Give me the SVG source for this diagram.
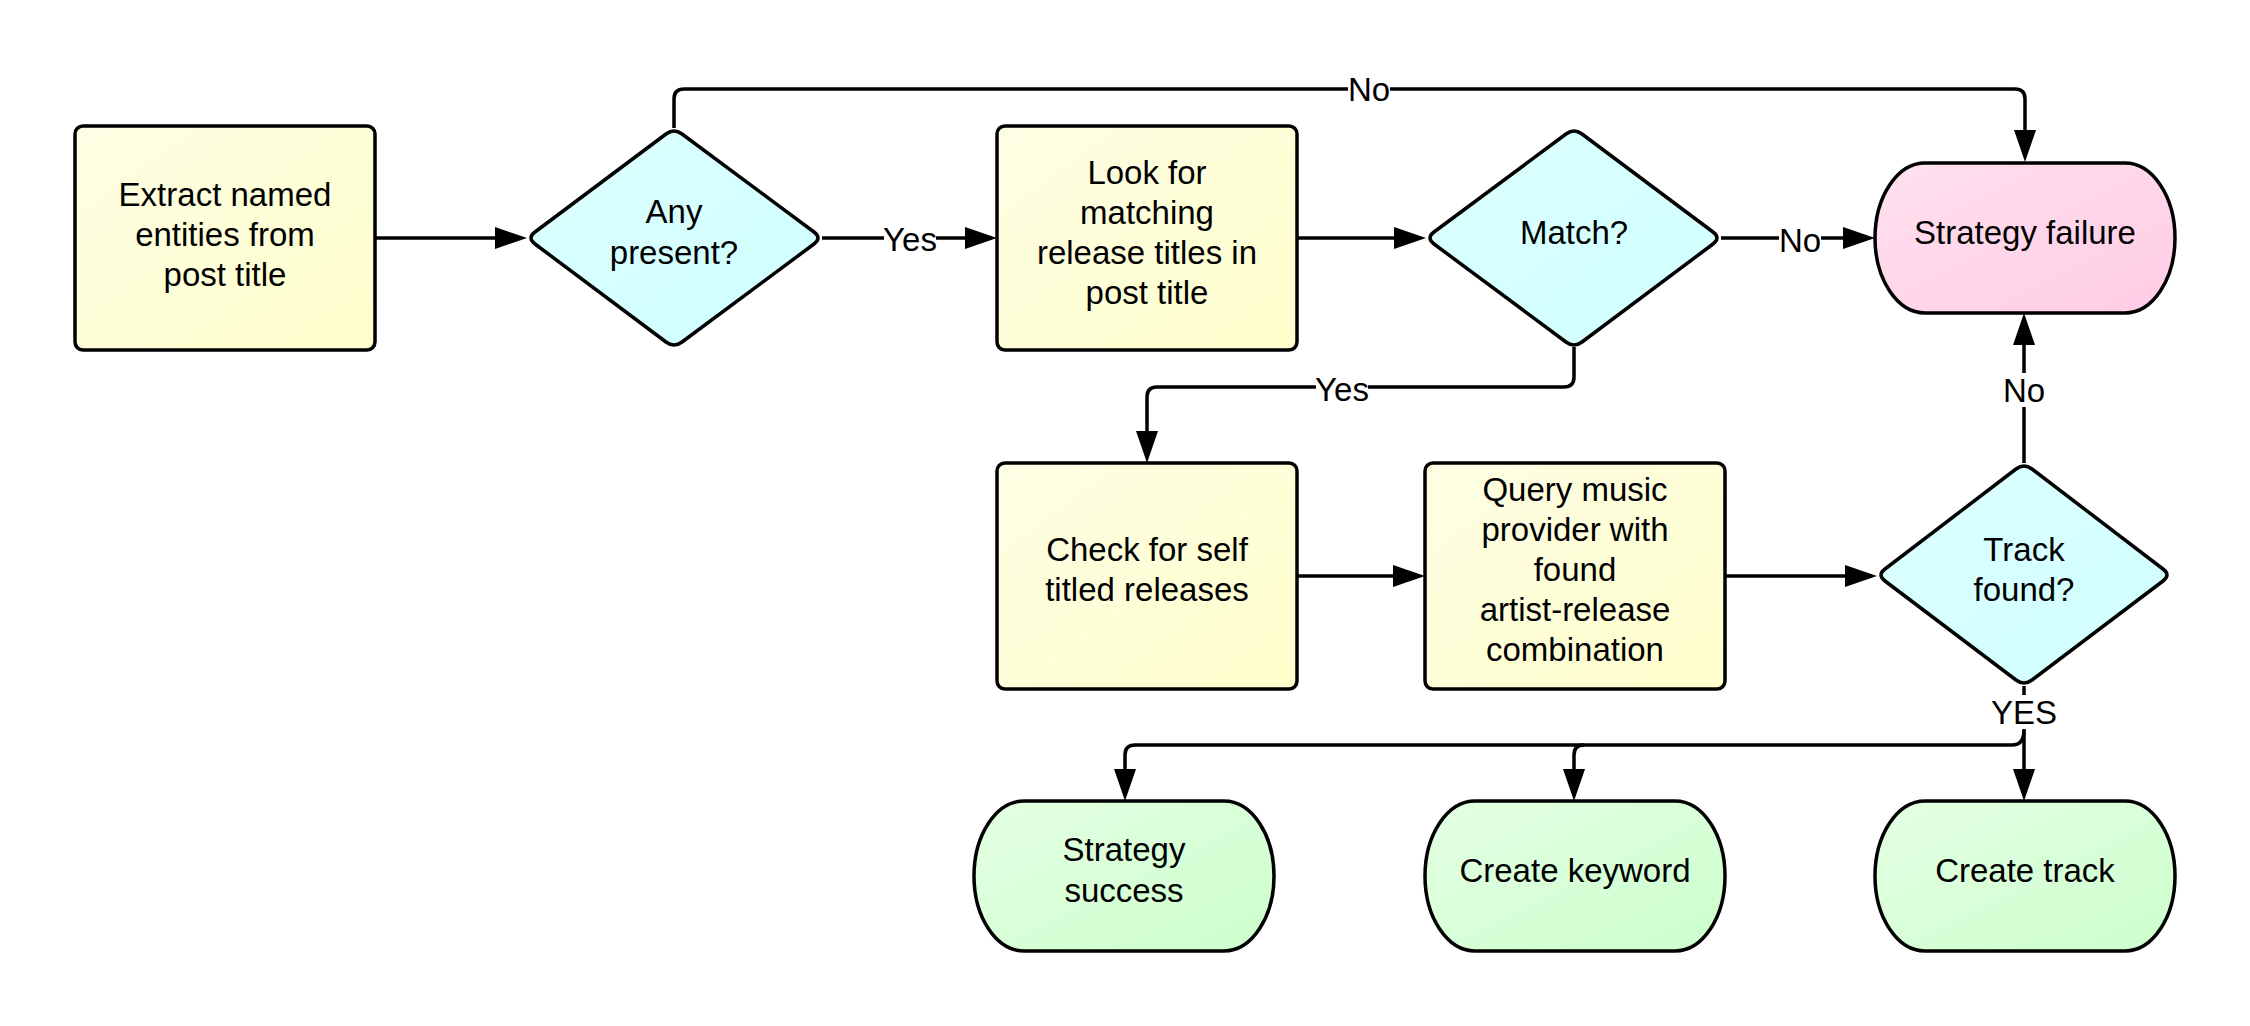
<svg xmlns="http://www.w3.org/2000/svg" width="2250" height="1026" viewBox="0 0 2250 1026">
<defs>
<linearGradient id="gY" x1="0" y1="0" x2="1" y2="1"><stop offset="0" stop-color="#fdfde4"/><stop offset="1" stop-color="#ffffcc"/></linearGradient>
<linearGradient id="gC" x1="0" y1="0" x2="1" y2="1"><stop offset="0" stop-color="#dcffff"/><stop offset="1" stop-color="#d0ffff"/></linearGradient>
<linearGradient id="gP" x1="0" y1="0" x2="1" y2="1"><stop offset="0" stop-color="#ffe0ee"/><stop offset="1" stop-color="#ffcce5"/></linearGradient>
<linearGradient id="gG" x1="0" y1="0" x2="1" y2="1"><stop offset="0" stop-color="#e4ffe4"/><stop offset="1" stop-color="#ccffcc"/></linearGradient>
<marker id="arr" markerUnits="userSpaceOnUse" markerWidth="32" markerHeight="22" refX="16" refY="11" orient="auto">
<path d="M0,0 L32,11 L0,22 z" fill="#000"/>
</marker>
<style>
.n{stroke:#000;stroke-width:3.5;stroke-linejoin:round}
.t{font-family:"Liberation Sans",Arial,sans-serif;font-size:33px;fill:#000;text-anchor:middle}
.c{fill:none;stroke:#000;stroke-width:3.5;stroke-linejoin:round}
.lb{fill:#fff}
</style>
</defs>
<rect width="2250" height="1026" fill="#fff"/>
<g id="connectors">
<path class="c" d="M375,238 H511" marker-end="url(#arr)"/>
<path class="c" d="M822,238 H981" marker-end="url(#arr)"/>
<path class="c" d="M674,128 V99 Q674,89 684,89 H2015 Q2025,89 2025,99 V146" marker-end="url(#arr)"/>
<path class="c" d="M1297,238 H1410" marker-end="url(#arr)"/>
<path class="c" d="M1721,238 H1859" marker-end="url(#arr)"/>
<path class="c" d="M1574,347 V377 Q1574,387 1564,387 H1157 Q1147,387 1147,397 V447" marker-end="url(#arr)"/>
<path class="c" d="M1297,576 H1409" marker-end="url(#arr)"/>
<path class="c" d="M1725,576 H1861" marker-end="url(#arr)"/>
<path class="c" d="M2024,463 V329" marker-end="url(#arr)"/>
<path class="c" d="M2024,686 V785" marker-end="url(#arr)"/>
<path class="c" d="M2024,730 Q2024,745 2012,745 H1135 Q1125,745 1125,755 V785" marker-end="url(#arr)"/>
<path class="c" d="M1584,745 Q1574,745 1574,755 V785" marker-end="url(#arr)"/>
<rect class="lb" x="884" y="222" width="52" height="34"/>
<text class="t" x="910" y="251">Yes</text>
<rect class="lb" x="1348" y="72" width="42" height="34"/>
<text class="t" x="1369" y="101">No</text>
<rect class="lb" x="1779" y="223" width="42" height="34"/>
<text class="t" x="1800" y="252">No</text>
<rect class="lb" x="1316" y="372" width="52" height="34"/>
<text class="t" x="1342" y="401">Yes</text>
<rect class="lb" x="2003" y="373" width="42" height="34"/>
<text class="t" x="2024" y="402">No</text>
<rect class="lb" x="1994" y="695" width="60" height="34"/>
<text class="t" x="2024" y="724">YES</text>
</g>
<g id="extract">
<rect class="n" x="75" y="126" width="300" height="224" rx="8" fill="url(#gY)"/>
<text class="t" x="225" y="206">Extract named</text>
<text class="t" x="225" y="246">entities from</text>
<text class="t" x="225" y="286">post title</text>
</g>
<g id="any">
<path class="n" d="M666,134 Q674,128 682,134 L814,232 Q822,238 814,244 L682,342 Q674,348 666,342 L535,244 Q527,238 535,232 Z" fill="url(#gC)"/>
<text class="t" x="674" y="223">Any</text>
<text class="t" x="674" y="264">present?</text>
</g>
<g id="lookfor">
<rect class="n" x="997" y="126" width="300" height="224" rx="8" fill="url(#gY)"/>
<text class="t" x="1147" y="184">Look for</text>
<text class="t" x="1147" y="224">matching</text>
<text class="t" x="1147" y="264">release titles in</text>
<text class="t" x="1147" y="304">post title</text>
</g>
<g id="match">
<path class="n" d="M1566,134 Q1574,128 1582,134 L1713,232 Q1721,238 1713,244 L1582,342 Q1574,348 1566,342 L1434,244 Q1426,238 1434,232 Z" fill="url(#gC)"/>
<text class="t" x="1574" y="244">Match?</text>
</g>
<g id="failure">
<rect class="n" x="1875" y="163" width="300" height="150" rx="50" ry="75" fill="url(#gP)"/>
<text class="t" x="2025" y="244">Strategy failure</text>
</g>
<g id="selftitled">
<rect class="n" x="997" y="463" width="300" height="226" rx="8" fill="url(#gY)"/>
<text class="t" x="1147" y="561">Check for self</text>
<text class="t" x="1147" y="601">titled releases</text>
</g>
<g id="query">
<rect class="n" x="1425" y="463" width="300" height="226" rx="8" fill="url(#gY)"/>
<text class="t" x="1575" y="501">Query music</text>
<text class="t" x="1575" y="541">provider with</text>
<text class="t" x="1575" y="581">found</text>
<text class="t" x="1575" y="621">artist-release</text>
<text class="t" x="1575" y="661">combination</text>
</g>
<g id="trackfound">
<path class="n" d="M2016,469 Q2024,463 2032,469 L2163,569 Q2171,575 2163,581 L2032,680 Q2024,686 2016,680 L1885,581 Q1877,575 1885,569 Z" fill="url(#gC)"/>
<text class="t" x="2024" y="561">Track</text>
<text class="t" x="2024" y="601">found?</text>
</g>
<g id="success">
<rect class="n" x="974" y="801" width="300" height="150" rx="50" ry="75" fill="url(#gG)"/>
<text class="t" x="1124" y="861">Strategy</text>
<text class="t" x="1124" y="902">success</text>
</g>
<g id="keyword">
<rect class="n" x="1425" y="801" width="300" height="150" rx="50" ry="75" fill="url(#gG)"/>
<text class="t" x="1575" y="882">Create keyword</text>
</g>
<g id="track">
<rect class="n" x="1875" y="801" width="300" height="150" rx="50" ry="75" fill="url(#gG)"/>
<text class="t" x="2025" y="882">Create track</text>
</g>
</svg>
